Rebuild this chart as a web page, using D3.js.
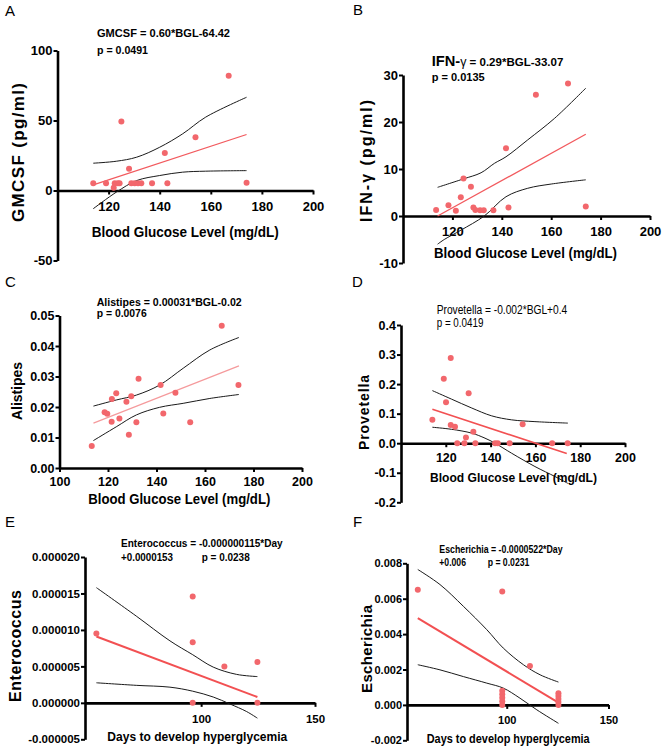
<!DOCTYPE html>
<html><head><meta charset="utf-8">
<script src="https://cdn.jsdelivr.net/npm/d3@7"></script>
<style>
body{margin:0;background:#fff}
svg{display:block}
text{font-family:"Liberation Sans",Arial,sans-serif;fill:#000}
</style></head><body>
<svg id="chart" width="664" height="750"></svg>
<script>
// ---------- Panel A : GMCSF vs BGL ----------
const aX = [114,119,122.4,123.6,124.3,122,125,128,128.9,130.2,131.5,132.8,137,142,143,154,167,174];
const aY = [5.2,5.2,5.2,5.2,5.2,1.9,49.3,15.5,5.2,5.2,5.2,5.2,5.2,26.7,5.2,38,82,5.5];
const aFit = [[114,4.0],[174,40.0]];
const aUpper = [[114,19.5],[123,20.9],[131,23.8],[140,30.9],[149,40.5],[158,52.4],[174,66.6]];
const aLower = [[114,-13],[123,-1.2],[131,7.1],[140,10.7],[149,13.1],[158,13.8],[174,14.2]];
const aYTicks = [-50,0,50,100];
const aXTicks = [120,140,160,180,200];

// ---------- Panel B : IFN-gamma vs BGL ----------
const bX = [113.4,118.4,121.4,123.4,124.5,127.5,128.5,129.3,131.2,132.7,136.6,141.7,142.7,153.8,166.8,174];
const bY = [1.3,2.3,1.1,4.0,8.0,6.2,1.8,1.3,1.2,1.2,1.2,14.4,1.8,25.8,28.2,2.0];
const bFit = [[114,0],[174,17.4]];
const bUpper = [[114,6.1],[124.5,7.9],[131.6,9.2],[137,11.2],[141.7,12.6],[150.5,16.2],[161.4,20.8],[174,27.2]];
const bLower = [[114,-6.0],[116.7,-5.0],[123.5,-3.0],[132.9,0],[141.7,4.1],[150.5,5.9],[160,6.8],[174,7.7]];
const bYTicks = [-10,0,10,20,30];
const bXTicks = [120,140,160,180,200];

// ---------- Panel C : Alistipes vs BGL ----------
const cX = [113.3,118.6,119.7,121.5,121.6,123.4,124.7,127.6,128.6,129.6,131.7,132.6,141.7,142.8,147.8,153.9,166.9,173.8];
const cY = [0.0072,0.0183,0.0178,0.0152,0.0226,0.0245,0.0162,0.0217,0.0109,0.0235,0.015,0.0293,0.0272,0.0179,0.0247,0.015,0.0466,0.0272];
const cFit = [[114,0.0147],[174,0.0335]];
const cUpper = [[114,0.0203],[123.4,0.0223],[131.7,0.0239],[141.3,0.0272],[151,0.0327],[162,0.0387],[174,0.0428]];
const cLower = [[114,0.009],[123.4,0.0135],[131.7,0.0174],[141.3,0.0199],[151,0.0212],[162,0.0228],[174,0.0241]];
const cYTicks = [0,0.01,0.02,0.03,0.04,0.05];
const cXTicks = [100,120,140,160,180,200];

// ---------- Panel D : Provetella vs BGL ----------
const dX = [114,119.1,120.1,122.2,122.2,124.1,125.1,128.3,129,130.2,132.3,133.2,142,143.2,148.5,154.3,167.5,174.4];
const dY = [0.079,0.218,0.139,0.288,0.062,0.056,0,0,0.019,0.169,0.039,0,0,0,0,0.064,0,0];
const dFit = [[114,0.115],[174,-0.035]];
const dUpper = [[114,0.178],[122.6,0.149],[131.6,0.119],[140.5,0.0925],[149.4,0.079],[159.8,0.073],[174.5,0.068]];
const dLower = [[114,0.054],[122.6,0.047],[131.6,0.034],[137.5,0.017],[142,0],[149.4,-0.034],[159.8,-0.079],[168.8,-0.113],[174.5,-0.136]];
const dYTicks = [-0.2,-0.1,0,0.1,0.2,0.3,0.4];
const dXTicks = [120,140,160,180,200];

// ---------- Panel E : Enterococcus vs days ----------
const eX = [54,96.3,96.3,96.3,110.2,124.7,124.7];
const eY = [9.5e-6,14.6e-6,8.3e-6,0,5.0e-6,5.6e-6,0];
const eFit = [[54,9.1e-6],[124.7,0.8e-6]];
const eUpper = [[54,15.8e-6],[71.5,11.9e-6],[86.3,8.5e-6],[96.3,6.6e-6],[105.3,4.9e-6],[115.6,3.9e-6],[124.7,3.6e-6]];
const eLower = [[54,2.75e-6],[71.5,2.4e-6],[86.3,2.15e-6],[96.3,1.6e-6],[105.3,0.8e-6],[112.6,-0.15e-6],[120,-1.2e-6],[124.7,-2.1e-6]];
const eYTicks = [-0.000005,0,0.000005,0.00001,0.000015,0.00002];
const eXTicks = [100,150];

// ---------- Panel F : Escherichia vs days ----------
const fX = [56.3,97.8,97.8,97.8,97.8,97.8,97.8,111.4,125.4,125.4,125.4,125.4,125.4];
const fY = [0.0065,0.0064,0.0008,0.0006,0.0004,0.0002,0,0.0022,0.00066,0.0005,0.00033,0.00016,0];
const fFit = [[56.3,0.0049],[125.4,0.00013]];
const fUpper = [[56.3,0.00765],[67.2,0.0068],[78.7,0.00557],[90.2,0.00425],[98.3,0.00321],[108.2,0.00227],[116.4,0.0017],[125.4,0.00129]];
const fLower = [[56.3,0.00227],[67.2,0.00198],[78.7,0.0016],[90.2,0.00123],[98.3,0.00095],[106.5,0.00038],[114.8,-0.00028],[125.4,-0.00104]];
const fYTicks = [-0.002,0,0.002,0.004,0.006,0.008];
const fXTicks = [100,150];

const svg = d3.select("#chart");
const DOT = "#f2676c";
const hy = f => v => f(v).replace("\u2212","-");

function panel(c){
  const x = d3.scaleLinear().domain(c.xDomain).range(c.xRange);
  const y = d3.scaleLinear().domain(c.yDomain).range(c.yRange);
  const g = svg.append("g");

  // axes
  const ya = g.append("g").attr("transform",`translate(${c.xRange[0]},0)`)
    .call(d3.axisLeft(y).tickValues(c.yTicks).tickFormat(hy(c.yFmt)).tickSize(4).tickSizeOuter(0).tickPadding(1));
  const xa = g.append("g").attr("transform",`translate(0,${y(0)})`)
    .call(d3.axisBottom(x).tickValues(c.xTicks).tickFormat(d3.format("d")).tickSize(4).tickSizeOuter(0).tickPadding(c.xPad));
  [ya,xa].forEach(a=>{
    a.select(".domain").attr("stroke","#000").attr("stroke-width",2.6);
    a.selectAll(".tick line").attr("stroke","#000").attr("stroke-width",2);
    a.selectAll(".tick text").attr("font-size",c.tickSize).attr("font-weight","bold")
      .attr("font-family","'Liberation Sans',Arial,sans-serif").attr("fill","#000");
  });

  // confidence bands
  const ln = d3.line().x(d=>x(d[0])).y(d=>y(d[1])).curve(d3.curveCatmullRom);
  [c.upper,c.lower].forEach(b=>{
    g.append("path").attr("d",ln(b)).attr("fill","none").attr("stroke","#1a1a1a").attr("stroke-width",1);
  });
  // fit line
  g.append("path").attr("d",d3.line().x(d=>x(d[0])).y(d=>y(d[1]))(c.fit))
    .attr("fill","none").attr("stroke",c.fitColor).attr("stroke-width",c.fitWidth);
  // points
  g.selectAll("circle.pt").data(d3.zip(c.xs,c.ys)).join("circle").attr("class","pt")
    .attr("cx",d=>x(d[0])).attr("cy",d=>y(d[1])).attr("r",3).attr("fill",DOT);

  // panel letter
  svg.append("text").attr("x",c.letter[1]).attr("y",c.letter[2]).text(c.letter[0])
    .attr("font-family","'Liberation Serif','Times New Roman',serif").attr("font-size",15);

  // x label
  svg.append("text").attr("x",c.xl.x).attr("y",c.xl.y).text(c.xl.t)
    .attr("font-size",c.xl.s).attr("font-weight","bold")
    .attr("textLength",c.xl.len).attr("lengthAdjust","spacingAndGlyphs");
  // y label
  svg.append("text").attr("transform",`translate(${c.yl.x},${c.yl.y}) rotate(-90)`)
    .attr("text-anchor","middle").text(c.yl.t)
    .attr("font-size",c.yl.s).attr("font-weight","bold")
    .attr("textLength",c.yl.len).attr("lengthAdjust","spacing");
  // annotation lines
  c.notes.forEach(n=>{
    const t = svg.append("text").attr("x",n.x).attr("y",n.y)
      .attr("font-size",n.s).attr("font-weight",n.w||"bold")
      .attr("textLength",n.len).attr("lengthAdjust","spacingAndGlyphs");
    if(n.parts){
      n.parts.forEach(p=>t.append("tspan").text(p[0]).attr("font-size",p[1]).attr("font-weight",p[2]));
    } else t.text(n.t);
  });
}

panel({xs:aX,ys:aY,fit:aFit,upper:aUpper,lower:aLower,yTicks:aYTicks,xTicks:aXTicks,
  xDomain:[100,200],xRange:[57.5,313],yDomain:[-50,100],yRange:[260.5,50.5],
  yFmt:d3.format("d"),tickSize:13,xPad:7,fitColor:"#f25a5e",fitWidth:1.3,
  letter:["A",5,16],
  xl:{t:"Blood Glucose Level (mg/dL)",x:91.7,y:237,s:15,len:187},
  yl:{t:"GMCSF (pg/ml)",x:24,y:152.5,s:17,len:139},
  notes:[{t:"GMCSF = 0.60*BGL-64.42",x:97,y:37,s:11,len:133},
         {t:"p = 0.0491",x:97,y:54,s:11,len:51}]});

panel({xs:bX,ys:bY,fit:bFit,upper:bUpper,lower:bLower,yTicks:bYTicks,xTicks:bXTicks,
  xDomain:[100,200],xRange:[403,650],yDomain:[-10,30],yRange:[263,75],
  yFmt:d3.format("d"),tickSize:13,xPad:6.5,fitColor:"#f25a5e",fitWidth:1.3,
  letter:["B",353,15],
  xl:{t:"Blood Glucose Level (mg/dL)",x:434,y:257.5,s:14,len:183},
  yl:{t:"IFN-\u03b3 (pg/ml)",x:372,y:161,s:16,len:122},
  notes:[{parts:[["IFN-",14,"bold"],["\u03b3",12,"normal"],[" = 0.29*BGL-33.07",11,"bold"]],x:431.7,y:65.7,s:11,len:131.6},
         {t:"p = 0.0135",x:431.7,y:81,s:11,len:53}]});

panel({xs:cX,ys:cY,fit:cFit,upper:cUpper,lower:cLower,yTicks:cYTicks,xTicks:cXTicks,
  xDomain:[100,200],xRange:[59.5,302],yDomain:[0,0.05],yRange:[468,315.5],
  yFmt:d3.format(".2f"),tickSize:12.5,xPad:5,fitColor:"#f59a9c",fitWidth:1.2,
  letter:["C",5,287],
  xl:{t:"Blood Glucose Level (mg/dL)",x:88.3,y:504,s:14,len:182},
  yl:{t:"Alistipes",x:21.5,y:391,s:14,len:58},
  notes:[{t:"Alistipes = 0.00031*BGL-0.02",x:96.7,y:305.7,s:11,len:145},
         {t:"p = 0.0076",x:96.7,y:317.3,s:11,len:50}]});

panel({xs:dX,ys:dY,fit:dFit,upper:dUpper,lower:dLower,yTicks:dYTicks,xTicks:dXTicks,
  xDomain:[100,200],xRange:[401,625],yDomain:[-0.2,0.4],yRange:[502.3,325],
  yFmt:d3.format(".1f"),tickSize:12.5,xPad:6,fitColor:"#f25052",fitWidth:1.6,
  letter:["D",352,287],
  xl:{t:"Blood Glucose Level (mg/dL)",x:430,y:481.5,s:13,len:167},
  yl:{t:"Provetella",x:369,y:412.5,s:14,len:75},
  notes:[{t:"Provetella = -0.002*BGL+0.4",x:436.7,y:314,s:12,w:"normal",len:130.6},
         {t:"p = 0.0419",x:436.7,y:327.3,s:12,w:"normal",len:46.7}]});

panel({xs:eX,ys:eY,fit:eFit,upper:eUpper,lower:eLower,yTicks:eYTicks,xTicks:eXTicks,
  xDomain:[49,150],xRange:[85,315],yDomain:[-0.000005,0.00002],yRange:[739.3,557],
  yFmt:d3.format(".6f"),tickSize:11.5,xPad:8,fitColor:"#f25052",fitWidth:2,
  letter:["E",5,527],
  xl:{t:"Days to develop hyperglycemia",x:107.3,y:741,s:12.5,len:180},
  yl:{t:"Enterococcus",x:21,y:646,s:16,len:112},
  notes:[{t:"Enterococcus = -0.000000115*Day",x:121,y:546.7,s:11,len:161.7},
         {t:"+0.0000153",x:121,y:561,s:11,len:52},
         {t:"p = 0.0238",x:201.7,y:561,s:11,len:48}]});

panel({xs:fX,ys:fY,fit:fFit,upper:fUpper,lower:fLower,yTicks:fYTicks,xTicks:fXTicks,
  xDomain:[51,150],xRange:[407,608.5],yDomain:[-0.002,0.008],yRange:[740.3,563.3],
  yFmt:d3.format(".3f"),tickSize:11,xPad:7.5,fitColor:"#f25052",fitWidth:2,
  letter:["F",353,527],
  xl:{t:"Days to develop hyperglycemia",x:426.7,y:743,s:12,len:163},
  yl:{t:"Escherichia",x:372,y:649,s:15,len:88},
  notes:[{t:"Escherichia = -0.0000522*Day",x:439.3,y:553.3,s:10.5,len:123.3},
         {t:"+0.006",x:439.3,y:566,s:10.5,len:26.7},
         {t:"p = 0.0231",x:487.7,y:566,s:10.5,len:41.7}]});
</script>
</body></html>
